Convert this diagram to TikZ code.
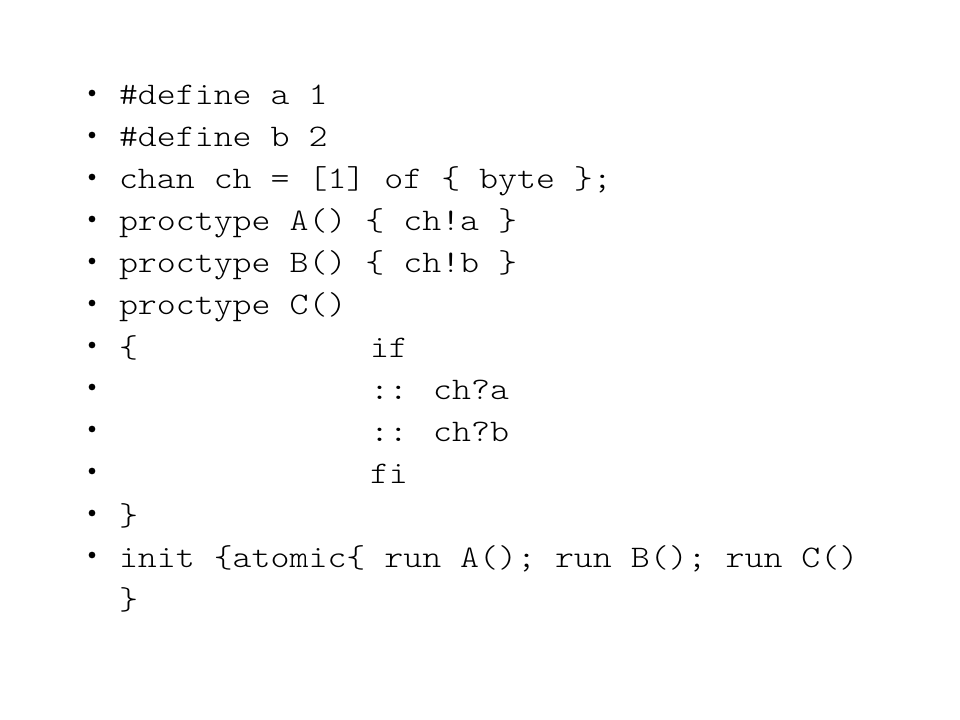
\documentclass[tikz,border=0pt]{standalone}
\usepackage{graphicx}
\newcommand{\cw}[1]{\scalebox{1.15}[1]{#1}}
\begin{document}
\begin{tikzpicture}[x=0.75pt,y=-0.75pt,
  codeline/.style={anchor=base west,inner sep=0pt,outer sep=0pt,font=\ttfamily\fontseries{l}\fontsize{23.55pt}{28pt}\selectfont},
  bulletdot/.style={circle,fill=black,inner sep=0pt,minimum size=5pt}]
\useasboundingbox[fill=white] (0,0) rectangle (960,720);
\foreach \i in {0,...,11} {
  \node[bulletdot] (b\i) at (92,{93+42*\i}) {};
}
\node[codeline] (l0) at (119,105) {\cw{\#define a 1}};
\node[codeline] (l1) at (119,147) {\cw{\#define b 2}};
\node[codeline] (l2) at (119,189) {\cw{chan ch = [1] of \{ byte \};}};
\node[codeline] (l3) at (119,231) {\cw{proctype A() \{ ch!a \}}};
\node[codeline] (l4) at (119,273) {\cw{proctype B() \{ ch!b \}}};
\node[codeline] (l5) at (119,315) {\cw{proctype C()}};
\node[codeline] (l6) at (119,357) {\cw{\{}};
\node[codeline] (l6b) at (370,357) {\cw{if}};
\node[codeline] (l7) at (370,399) {\cw{:: ch?a}};
\node[codeline] (l8) at (370,441) {\cw{:: ch?b}};
\node[codeline] (l9) at (370,483) {\cw{fi}};
\node[codeline] (l10) at (119,525) {\cw{\}}};
\node[codeline] (l11) at (119,567) {\cw{init \{atomic\{ run A(); run B(); run C()}};
\node[codeline] (l12) at (119,609) {\cw{\}}};
\end{tikzpicture}
\end{document}
